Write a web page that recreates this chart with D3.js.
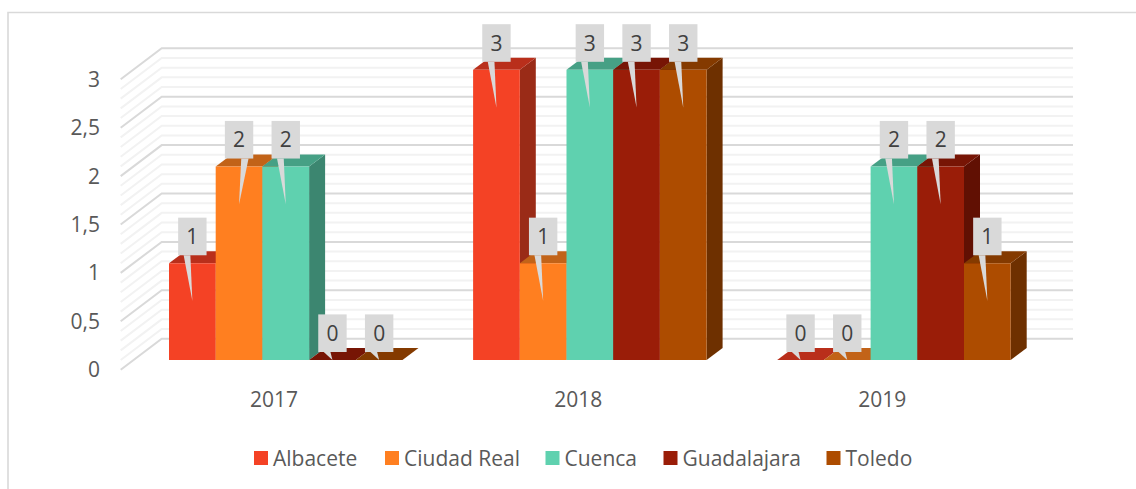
<!DOCTYPE html>
<html><head><meta charset="utf-8">
<script src="https://cdn.jsdelivr.net/npm/d3@7"></script>
<style>html,body{margin:0;padding:0;background:#fff}svg{display:block}text{font-family:"Open Sans",sans-serif}</style>
</head><body><div id="chart"></div>
<script>
const years = ["2017","2018","2019"];
const provinces = ["Albacete","Ciudad Real","Cuenca","Guadalajara","Toledo"];
const albacete = [1,3,0];
const ciudadReal = [2,1,0];
const cuenca = [2,3,2];
const guadalajara = [0,3,2];
const toledo = [0,3,1];
const seriesValues = [albacete,ciudadReal,cuenca,guadalajara,toledo];
const frontColors = ["#F44225","#FF7F20","#5FD1AF","#9A1D08","#AD4C00"];
const topColors = ["#B92F1B","#C26318","#46A085","#771505","#843A00"];
const sideColors = ["#9A2B17","#A85515","#3C8670","#611003","#6E3000"];
const yTicks = [0,0.5,1,1.5,2,2.5,3];
const minorTicks = d3.range(0,31).map(i=>i/10);
const legendX = [254,385,545.5,663.5,826.5];

const W=1136,H=489;
const depthX=16, depthY=-12;
const floorX=41, floorY=31;
const svg=d3.select("#chart").append("svg").attr("width",W).attr("height",H);
svg.append("path").attr("d",`M8,${H}V12.5H${W}`).attr("fill","none").attr("stroke","#d9d9d9").attr("stroke-width",1.6);

const x0=d3.scaleBand().domain(years).range([134,1046.3]);
const x1=d3.scaleBand().domain(d3.range(5)).range([35,268.5]);
const y=d3.scaleLinear().domain([0,3]).range([360,69.8]);
const yBack=d3.scaleLinear().domain([0,3]).range([338.7,48.3]);
const backL=161.7, backR=1073, frontL=120.7;

const grid=svg.append("g").attr("fill","none");
minorTicks.forEach(v=>{
  const major=Math.round(v*10)%5===0;
  grid.append("path").attr("d",`M${frontL},${yBack(v)+floorY}L${backL},${yBack(v)}H${backR}`)
    .attr("stroke",major?"#d9d9d9":"#f2f2f2").attr("stroke-width",2);
});

const fmt=d=>String(d).replace(".",",");
const yAxis=svg.append("g").attr("fill","#595959").attr("font-size",21).attr("text-anchor","end");
yAxis.selectAll("text").data(yTicks).join("text").attr("x",100).attr("y",d=>yBack(d)+floorY).attr("dy","0.36em").text(fmt);
svg.append("g").attr("fill","#595959").attr("font-size",21).attr("text-anchor","middle")
  .selectAll("text").data(years).join("text").attr("x",d=>x0(d)+x0.bandwidth()/2-12).attr("y",399).attr("dy","0.36em").text(d=>d);

const bars=svg.append("g");
const labels=[];
years.forEach((yr,i)=>{
  provinces.forEach((p,s)=>{
    const v=seriesValues[s][i];
    const l=x0(yr)+x1(s), r=l+x1.bandwidth(), t=y(v), b=y(0);
    const g=bars.append("g");
    g.append("path").attr("d",`M${r},${t}L${r+depthX},${t+depthY}V${b+depthY}L${r},${b}Z`).attr("fill",sideColors[s]);
    g.append("path").attr("d",`M${l},${t}L${l+depthX},${t+depthY}H${r+depthX}L${r},${t}Z`).attr("fill",topColors[s]);
    g.append("rect").attr("x",l).attr("y",t).attr("width",x1.bandwidth()).attr("height",b-t).attr("fill",frontColors[s]);
    labels.push({cx:(l+r)/2,t,b,v,s});
  });
});
const lab=svg.append("g");
labels.forEach(d=>{
  const rb=d.t-8, rt=rb-37.6, tip=Math.min(d.t+37.6,d.b);
  const flip=d.s===1&&d.v===2;
  const a=flip?d.cx+2.2:d.cx-8.7, c=flip?d.cx+9.5:d.cx-2;
  lab.append("path").attr("d",`M${a},${rb}L${d.cx},${tip}L${c},${rb}Z`).attr("fill","#d9d9d9");
  lab.append("rect").attr("x",d.cx-14.2).attr("y",rt).attr("width",28.4).attr("height",37.6).attr("fill","#d9d9d9");
  lab.append("text").attr("x",d.cx).attr("y",rt+18.8).attr("dy","0.36em").attr("text-anchor","middle").attr("font-size",21).attr("fill","#404040").text(d.v);
});
const leg=svg.append("g");
provinces.forEach((p,i)=>{
  leg.append("rect").attr("x",legendX[i]).attr("y",451).attr("width",14).attr("height",14).attr("fill",frontColors[i]);
  leg.append("text").attr("x",legendX[i]+19).attr("y",458).attr("dy","0.36em").attr("font-size",21).attr("fill","#595959").text(p);
});
</script></body></html>
